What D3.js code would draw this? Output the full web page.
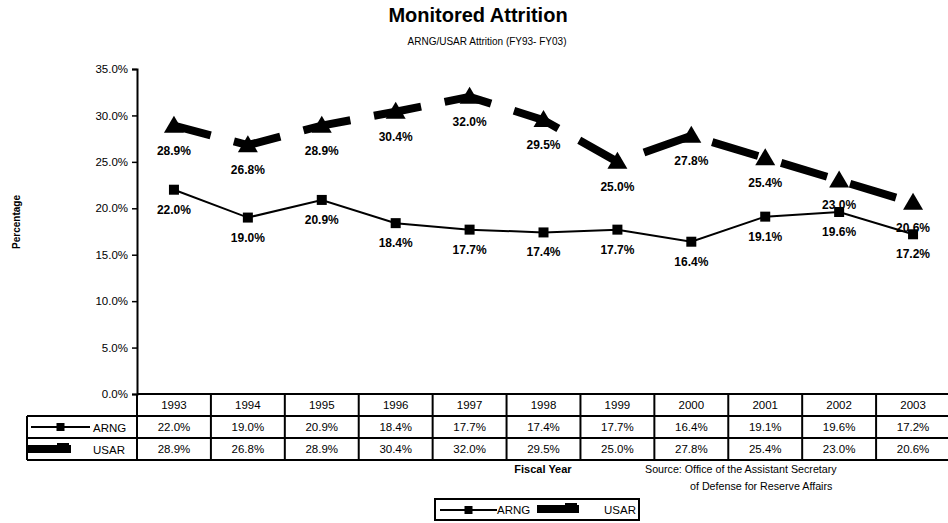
<!DOCTYPE html>
<html lang="en">
<head>
<meta charset="utf-8">
<title>Monitored Attrition</title>
<script src="https://cdn.jsdelivr.net/npm/d3@7"></script>
<style>
  body { margin: 0; background: #fff; }
  svg { font-family: "Liberation Sans", Arial, sans-serif; }
</style>
</head>
<body>
<script>
// data
var years = ["1993", "1994", "1995", "1996", "1997", "1998", "1999", "2000", "2001", "2002", "2003"];
var arng = [22.0, 19.0, 20.9, 18.4, 17.7, 17.4, 17.7, 16.4, 19.1, 19.6, 17.2];
var usar = [28.9, 26.8, 28.9, 30.4, 32.0, 29.5, 25.0, 27.8, 25.4, 23.0, 20.6];
var yTicks = [0, 5, 10, 15, 20, 25, 30, 35];

var w = 948, h = 523;
var plotL = 137, plotR = 950, plotT = 69, plotB = 394;
var rowH = 22;

var svg = d3.select("body").append("svg")
  .attr("width", w).attr("height", h);

var x = d3.scaleBand().domain(years).range([plotL, plotR]);
var y = d3.scaleLinear().domain([0, 35]).range([plotB, plotT]);
var fmt = function(v) { return v.toFixed(1) + "%"; };
var cx = function(d, i) { return x(years[i]) + x.bandwidth() / 2; };

// titles
svg.append("text").attr("x", 478).attr("y", 22)
  .attr("text-anchor", "middle").style("font-size", "20px").style("font-weight", "bold")
  .text("Monitored Attrition");
svg.append("text").attr("x", 487).attr("y", 45)
  .attr("text-anchor", "middle").style("font-size", "10px")
  .text("ARNG/USAR  Attrition (FY93- FY03)");

// y axis
var yAxis = d3.axisLeft(y).tickValues(yTicks).tickSize(5).tickPadding(4)
  .tickFormat(function(d) { return d.toFixed(1) + "%"; });
var gy = svg.append("g").attr("transform", "translate(" + plotL + ",0)").call(yAxis);
gy.select(".domain").attr("stroke", "#000").attr("stroke-width", 2);
gy.selectAll(".tick line").attr("stroke", "#000").attr("stroke-width", 1.5);
gy.selectAll(".tick text").style("font-size", "11.5px").style("font-family", "Liberation Sans, Arial")
  .attr("fill", "#000");

svg.append("text")
  .attr("transform", "translate(20,222) rotate(-90)")
  .attr("text-anchor", "middle").style("font-size", "10px").style("font-weight", "bold")
  .text("Percentage");

// ARNG line
var line = d3.line().x(function(d, i) { return cx(d, i); })
  .y(function(d) { return y(d); });
svg.append("path").datum(arng).attr("d", line)
  .attr("fill", "none").attr("stroke", "#000").attr("stroke-width", 2);

// USAR dashed thick line
svg.append("path").datum(usar).attr("d", line)
  .attr("fill", "none").attr("stroke", "#000").attr("stroke-width", 8)
  .attr("stroke-dasharray", "48,24").attr("stroke-dashoffset", 10);

// markers
svg.selectAll(".mA").data(arng).enter().append("rect")
  .attr("x", function(d, i) { return cx(d, i) - 5; })
  .attr("y", function(d) { return y(d) - 5; })
  .attr("width", 10).attr("height", 10).attr("fill", "#000");
svg.selectAll(".mU").data(usar).enter().append("path")
  .attr("transform", function(d, i) { return "translate(" + cx(d, i) + "," + y(d) + ")"; })
  .attr("d", "M0,-10 L10,7 L-10,7 Z").attr("fill", "#000");

// data labels
svg.selectAll(".lA").data(arng).enter().append("text")
  .attr("x", cx).attr("y", function(d) { return y(d) + 24; })
  .attr("text-anchor", "middle").style("font-size", "12px").style("font-weight", "bold")
  .text(fmt);
svg.selectAll(".lU").data(usar).enter().append("text")
  .attr("x", cx).attr("y", function(d) { return y(d) + 29; })
  .attr("text-anchor", "middle").style("font-size", "12px").style("font-weight", "bold")
  .text(fmt);

// data table
var tbl = svg.append("g").attr("stroke", "#000").attr("stroke-width", 2);
[1, 2, 3].forEach(function(r) {
  tbl.append("line").attr("x1", 27).attr("x2", plotR).attr("y1", plotB + rowH * r).attr("y2", plotB + rowH * r);
});
tbl.append("line").attr("x1", 27).attr("x2", 27).attr("y1", plotB + rowH).attr("y2", plotB + rowH * 3);
tbl.append("line").attr("x1", plotL).attr("x2", plotR).attr("y1", plotB).attr("y2", plotB);
years.forEach(function(yr) {
  tbl.append("line").attr("x1", x(yr) + x.bandwidth()).attr("x2", x(yr) + x.bandwidth())
    .attr("y1", plotB).attr("y2", plotB + rowH * 3);
});
tbl.append("line").attr("x1", plotL).attr("x2", plotL).attr("y1", plotB).attr("y2", plotB + rowH * 3);

svg.selectAll(".yr").data(years).enter().append("text")
  .attr("x", function(d) { return x(d) + x.bandwidth() / 2; })
  .attr("y", plotB + 15).attr("text-anchor", "middle").style("font-size", "11.5px")
  .text(function(d) { return d; });
svg.selectAll(".tA").data(arng).enter().append("text")
  .attr("x", cx).attr("y", plotB + rowH + 15).attr("text-anchor", "middle").style("font-size", "11.5px")
  .text(fmt);
svg.selectAll(".tU").data(usar).enter().append("text")
  .attr("x", cx).attr("y", plotB + rowH * 2 + 15).attr("text-anchor", "middle").style("font-size", "11.5px")
  .text(fmt);

// row keys
function keyA(g, x0, x1, yy) {
  g.append("line").attr("x1", x0).attr("x2", x1).attr("y1", yy).attr("y2", yy)
    .attr("stroke", "#000").attr("stroke-width", 2);
  g.append("rect").attr("x", (x0 + x1) / 2 - 4).attr("y", yy - 4).attr("width", 8).attr("height", 8).attr("fill", "#000");
}
function keyU(g, x0, x1, yy) {
  g.append("rect").attr("x", x0).attr("y", yy - 4).attr("width", x1 - x0).attr("height", 8).attr("fill", "#000");
  g.append("rect").attr("x", x1 - 14).attr("y", yy - 6).attr("width", 12).attr("height", 10).attr("fill", "#000");
}
keyA(svg, 31, 90, plotB + rowH * 1.5);
svg.append("text").attr("x", 93).attr("y", plotB + rowH + 16).style("font-size", "11.5px").text("ARNG");
keyU(svg, 27, 71, plotB + rowH * 2.5);
svg.append("text").attr("x", 93).attr("y", plotB + rowH * 2 + 16).style("font-size", "11.5px").text("USAR");

// axis title and source
svg.append("text").attr("x", 543).attr("y", 473).attr("text-anchor", "middle")
  .style("font-size", "11px").style("font-weight", "bold").text("Fiscal Year");
svg.append("text").attr("x", 645).attr("y", 473).style("font-size", "10.7px")
  .text("Source: Office of the Assistant Secretary");
svg.append("text").attr("x", 690).attr("y", 490).style("font-size", "10.7px")
  .text("of Defense for Reserve Affairs");

// legend
var lg = svg.append("g");
lg.append("rect").attr("x", 435).attr("y", 499).attr("width", 204).attr("height", 21)
  .attr("fill", "none").attr("stroke", "#000").attr("stroke-width", 2);
keyA(lg, 440, 497, 510);
lg.append("text").attr("x", 497).attr("y", 514).style("font-size", "11.5px").text("ARNG");
keyU(lg, 537, 579, 509);
lg.append("text").attr("x", 604).attr("y", 514).style("font-size", "11.5px").text("USAR");
</script>
</body>
</html>
